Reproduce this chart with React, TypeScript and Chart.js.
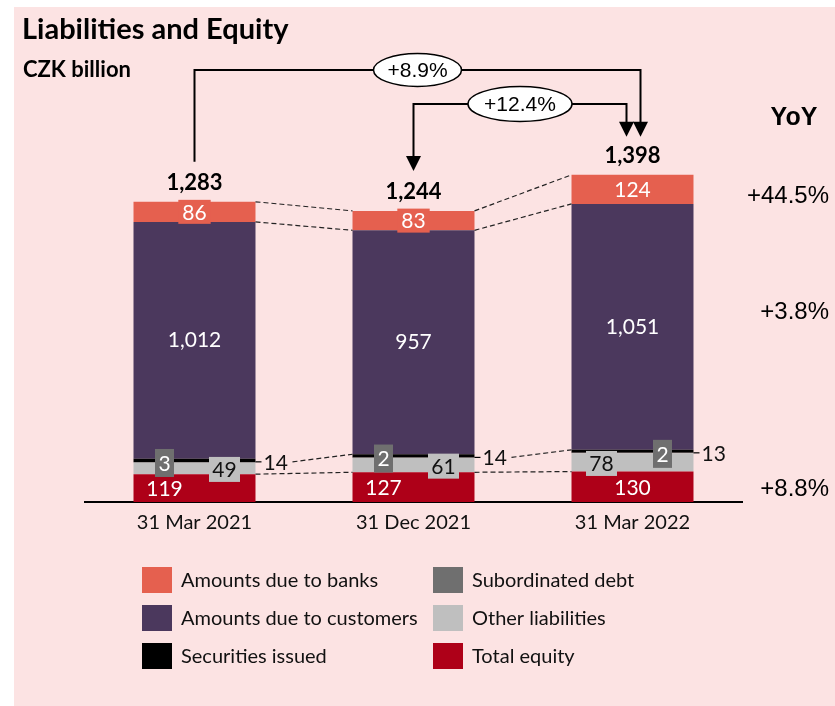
import React, { useEffect, useRef } from 'react';
import { Chart, registerables } from 'chart.js';

Chart.register(...registerables);

// ---- data ----
const categories = ['31 Mar 2021', '31 Dec 2021', '31 Mar 2022'];
const totalEquity = [119, 127, 130];
const otherLiabilities = [49, 61, 78];
const subordinatedDebt = [3, 2, 2];
const securitiesIssued = [14, 14, 13];
const dueToCustomers = [1012, 957, 1051];
const dueToBanks = [86, 83, 124];
const totals = [1283, 1244, 1398];
const changeLabels = ['+8.9%', '+12.4%'];
const yoyLabels = ['+44.5%', '+3.8%', '+8.8%'];

const seriesNames = [
  'Total equity',
  'Other liabilities',
  'Subordinated debt',
  'Securities issued',
  'Amounts due to customers',
  'Amounts due to banks',
];
const seriesColors = ['#AE0018', '#BFBFBF', '#6F6F6F', '#000000', '#4B385D', '#E5604F'];
const legendColumns = [
  ['Amounts due to banks', 'Amounts due to customers', 'Securities issued'],
  ['Subordinated debt', 'Other liabilities', 'Total equity'],
];

const BG = '#FCE3E3';
const SANS = 'Lato, "Noto Sans", sans-serif';
const ARIAL = '"Liberation Sans", Arial, sans-serif';

const fmt = (v: number) => v.toLocaleString('en-US');

const bgPlugin = {
  id: 'bgPlugin',
  beforeDraw(chart: any) {
    const ctx = chart.ctx;
    ctx.save();
    ctx.fillStyle = '#ffffff';
    ctx.fillRect(0, 0, chart.width, chart.height);
    ctx.fillStyle = BG;
    ctx.fillRect(14, 7, chart.width - 14, chart.height - 7);
    ctx.restore();
  },
};

function text(ctx: any, s: string, x: number, y: number, font: string, color: string, align: string = 'center') {
  ctx.font = font;
  ctx.fillStyle = color;
  ctx.textAlign = align;
  ctx.textBaseline = 'middle';
  ctx.fillText(s, x, y);
}

function boxLabel(ctx: any, s: string, x: number, y: number, w: number, h: number, bg: string, fg: string) {
  ctx.fillStyle = bg;
  ctx.fillRect(x - w / 2, y - h / 2, w, h);
  text(ctx, s, x, y + 1, `21px ${SANS}`, fg);
}

function arrowHead(ctx: any, x: number, tipY: number) {
  ctx.beginPath();
  ctx.moveTo(x - 7.5, tipY - 15);
  ctx.lineTo(x + 7.5, tipY - 15);
  ctx.lineTo(x, tipY);
  ctx.closePath();
  ctx.fillStyle = '#000';
  ctx.fill();
}

function ellipseLabel(ctx: any, s: string, cx: number, cy: number, rx: number, ry: number) {
  ctx.beginPath();
  ctx.ellipse(cx, cy, rx, ry, 0, 0, Math.PI * 2);
  ctx.fillStyle = '#fff';
  ctx.fill();
  ctx.lineWidth = 1.5;
  ctx.strokeStyle = '#000';
  ctx.stroke();
  text(ctx, s, cx, cy + 1, `21px ${ARIAL}`, '#000');
}

const overlayPlugin = {
  id: 'overlayPlugin',
  afterDatasetsDraw(chart: any) {
    const ctx = chart.ctx;
    const m = (i: number) => chart.getDatasetMeta(i).data as any[];
    const eq = m(0), oth = m(1), sub = m(2), sec = m(3), cus = m(4), bnk = m(5);
    ctx.save();

    // dashed connectors
    ctx.setLineDash([5, 3]);
    ctx.lineWidth = 1.2;
    ctx.strokeStyle = '#222';
    const dash = (x1: number, y1: number, x2: number, y2: number) => {
      ctx.beginPath();
      ctx.moveTo(x1, y1);
      ctx.lineTo(x2, y2);
      ctx.stroke();
    };
    for (let i = 0; i < 2; i++) {
      const ra = bnk[i].x + bnk[i].width / 2;
      const lb = bnk[i + 1].x - bnk[i + 1].width / 2;
      dash(ra, bnk[i].y, lb, bnk[i + 1].y);
      dash(ra, cus[i].y, lb, cus[i + 1].y);
      dash(ra, eq[i].y, lb, eq[i + 1].y);
      const secY = (sec[i].y + sec[i].base) / 2 + 1.5;
      dash(ra + 37, secY, lb, sec[i + 1].y);
    }
    ctx.setLineDash([]);

    const eqOffsets = [-30, -30, 0];
    const othOffsets = [30, 30, -31];
    const subOffsets = [-30, -30, 30];

    for (let i = 0; i < categories.length; i++) {
      // banks
      const b = bnk[i];
      const by = (b.y + b.base) / 2;
      ctx.font = `21px ${SANS}`;
      const bw = ctx.measureText(fmt(dueToBanks[i])).width + 8;
      ctx.fillStyle = seriesColors[5];
      ctx.fillRect(b.x - bw / 2, by - 12, bw, 24);
      text(ctx, fmt(dueToBanks[i]), b.x, by + 1, `21px ${SANS}`, '#fff');
      // customers
      const c = cus[i];
      text(ctx, fmt(dueToCustomers[i]), c.x, (c.y + c.base) / 2, `21px ${SANS}`, '#fff');
      // equity
      const e = eq[i];
      text(ctx, fmt(totalEquity[i]), e.x + eqOffsets[i], (e.y + e.base) / 2 + 1, `21px ${SANS}`, '#fff');
      // other liabilities
      const o = oth[i];
      boxLabel(ctx, fmt(otherLiabilities[i]), o.x + othOffsets[i], (o.y + o.base) / 2 + 1, 31, 25, seriesColors[1], '#111');
      // subordinated
      const s = sub[i];
      boxLabel(ctx, fmt(subordinatedDebt[i]), s.x + subOffsets[i], s.y + 1, 19, 28, seriesColors[2], '#fff');
      // securities
      const q = sec[i];
      const qy = (q.y + q.base) / 2 + 1.5;
      const qr = q.x + q.width / 2;
      ctx.lineWidth = 1.2;
      ctx.strokeStyle = '#000';
      ctx.beginPath();
      ctx.moveTo(qr, qy);
      ctx.lineTo(qr + 6, qy);
      ctx.stroke();
      text(ctx, fmt(securitiesIssued[i]), qr + 8, qy + 1, `21px ${SANS}`, '#111', 'left');
      // totals
      text(ctx, fmt(totals[i]), b.x, b.y - 19, `bold 22px ${SANS}`, '#000');
    }

    // change arrows
    const x1 = bnk[0].x, x2 = bnk[1].x, x3 = bnk[2].x;
    const t1 = bnk[0].y, t2 = bnk[1].y, t3 = bnk[2].y;
    const yA = 70, yB = 104;
    ctx.lineWidth = 2;
    ctx.strokeStyle = '#000';
    ctx.beginPath();
    ctx.moveTo(x1, t1 - 40);
    ctx.lineTo(x1, yA);
    ctx.lineTo(x3 + 8, yA);
    ctx.lineTo(x3 + 8, t3 - 50);
    ctx.stroke();
    arrowHead(ctx, x3 + 8, t3 - 38);
    ctx.beginPath();
    ctx.moveTo(x2, t2 - 50);
    ctx.lineTo(x2, yB);
    ctx.lineTo(x3 - 6, yB);
    ctx.lineTo(x3 - 6, t3 - 50);
    ctx.stroke();
    arrowHead(ctx, x2, t2 - 40);
    arrowHead(ctx, x3 - 6, t3 - 38);
    ellipseLabel(ctx, changeLabels[0], (x1 + x3 + 8) / 2, yA, 44, 16.5);
    ellipseLabel(ctx, changeLabels[1], (x2 + x3 - 6) / 2, yB, 52, 17.5);

    // titles
    text(ctx, 'Liabilities and Equity', 22, 30, `bold 29px ${SANS}`, '#000', 'left');
    text(ctx, 'CZK billion', 23, 70, `bold 22px ${SANS}`, '#000', 'left');

    // YoY column
    text(ctx, 'YoY', 794, 118, `bold 25px ${ARIAL}`, '#000');
    const yoyY = [196, 312, 489];
    yoyLabels.forEach((l, k) => text(ctx, l, 829, yoyY[k], `24px ${ARIAL}`, '#000', 'right'));

    // legend
    const colX = [142, 433];
    const rowY = [580, 618, 656];
    legendColumns.forEach((col, ci) => {
      col.forEach((name, ri) => {
        const idx = seriesNames.indexOf(name);
        ctx.fillStyle = seriesColors[idx];
        ctx.fillRect(colX[ci], rowY[ri] - 13, 30, 26);
        text(ctx, name, colX[ci] + 39, rowY[ri] + 1, `20px ${SANS}`, '#111', 'left');
      });
    });

    ctx.restore();
  },
};

export default function App() {
  const ref = useRef<HTMLCanvasElement>(null);
  useEffect(() => {
    if (!ref.current) return;
    const seriesData = [totalEquity, otherLiabilities, subordinatedDebt, securitiesIssued, dueToCustomers, dueToBanks];
    const chart = new Chart(ref.current, {
      type: 'bar',
      data: {
        labels: categories,
        datasets: seriesNames.map((name, i) => ({
          label: name,
          data: seriesData[i],
          backgroundColor: seriesColors[i],
          borderWidth: 0,
          barPercentage: 0.557,
          categoryPercentage: 1,
        })),
      },
      options: {
        animation: false,
        responsive: false,
        devicePixelRatio: 1,
        layout: { padding: { left: 85, right: 93, top: 151, bottom: 162 } },
        plugins: { legend: { display: false }, tooltip: { enabled: false }, title: { display: false } },
        scales: {
          x: {
            stacked: true,
            grid: { display: false, drawTicks: false, tickLength: 0 },
            border: { display: true, color: '#000', width: 2 },
            ticks: { color: '#111', font: { family: SANS, size: 20 }, padding: 9 },
          },
          y: { stacked: true, display: false, min: 0, max: 1500 },
        },
      },
      plugins: [bgPlugin, overlayPlugin],
    });
    return () => chart.destroy();
  }, []);
  return (
    <div style={{ position: 'absolute', left: 0, top: 0, width: 835, height: 706 }}>
      <canvas ref={ref} width={835} height={706} style={{ display: 'block' }} />
    </div>
  );
}
